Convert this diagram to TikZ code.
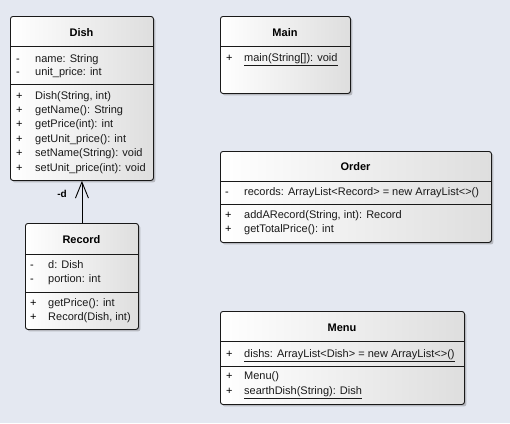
\documentclass[tikz,border=0pt]{standalone}
\usepackage{fontspec}
\setmainfont{Liberation Sans}
\usetikzlibrary{arrows.meta,shadows}
\definecolor{bgc}{RGB}{228,232,241}
\definecolor{boxr}{RGB}{222,222,222}
\begin{document}
\begin{tikzpicture}[x=1pt,y=-1pt,
  box/.style={draw=black!90, line width=0.9pt, rounded corners=2.5pt, left color=white, right color=boxr,
    drop shadow={shadow xshift=2pt, shadow yshift=-2pt, opacity=0.3, fill=black!70},
    anchor=north west, inner sep=0pt},
  sep/.style={draw=black!90, line width=0.9pt},
  txt/.style={anchor=west, inner sep=0pt, font=\fontsize{11pt}{12pt}\selectfont, text height=7.4pt, text depth=0.4pt, text=black!90},
  ttl/.style={anchor=center, inner sep=0pt, font=\fontsize{11pt}{12pt}\selectfont\bfseries, text height=7.4pt, text depth=0.4pt},
  vis/.style={anchor=west, inner sep=0pt, font=\fontsize{11pt}{12pt}\selectfont, text height=7.4pt, text depth=0.4pt},
  assoc/.style={draw=black, line width=0.9pt, -{Straight Barb[length=16pt,width=13pt,line width=0.9pt]}}
]
\fill[bgc] (0,0) rectangle (510,423);
\useasboundingbox (0,0) rectangle (510,423);

% Dish
\node[box, minimum width=143pt, minimum height=164pt] (dish) at (10,16) {};
\draw[sep] (10,46) -- (153,46);
\draw[sep] (10,84) -- (153,84);
\node[ttl] (dishT) at (81.5,33) {Dish};
\node[vis] (dv1) at (16,59) {-};
\node[txt] (da1) at (35,59) {name: String};
\node[vis] (dv2) at (16,72) {-};
\node[txt] (da2) at (35,72) {unit\_price: int};
\node[vis] (dv3) at (16,96) {+};
\node[txt] (dm1) at (35,96) {Dish(String, int)};
\node[vis] (dv4) at (16,110) {+};
\node[txt] (dm2) at (35,110) {getName(): String};
\node[vis] (dv5) at (16,124) {+};
\node[txt] (dm3) at (35,124) {getPrice(int): int};
\node[vis] (dv6) at (16,139) {+};
\node[txt] (dm4) at (35,139) {getUnit\_price(): int};
\node[vis] (dv7) at (16,153) {+};
\node[txt] (dm5) at (35,153) {setName(String): void};
\node[vis] (dv8) at (16,168) {+};
\node[txt] (dm6) at (35,168) {setUnit\_price(int): void};

% Record
\node[box, minimum width=113pt, minimum height=106pt] (record) at (25,223) {};
\draw[sep] (25,254) -- (138,254);
\draw[sep] (25,292) -- (138,292);
\node[ttl] (recT) at (81.5,240) {Record};
\node[vis] (rv1) at (30,265) {-};
\node[txt] (ra1) at (48,265) {d: Dish};
\node[vis] (rv2) at (30,279) {-};
\node[txt] (ra2) at (48,279) {portion: int};
\node[vis] (rv3) at (30,303) {+};
\node[txt] (rm1) at (48,303) {getPrice(): int};
\node[vis] (rv4) at (30,317) {+};
\node[txt] (rm2) at (48,317) {Record(Dish, int)};

% association
\draw[assoc] (record.north) -- (dish.south);
\node[ttl, font=\fontsize{10pt}{12pt}\selectfont\bfseries] (lbl) at (62,194) {-d};

% Main
\node[box, minimum width=130pt, minimum height=77pt] (main) at (220,16) {};
\draw[sep] (220,46) -- (350,46);
\node[ttl] (mainT) at (285,33) {Main};
\node[vis] (mv1) at (226,58) {+};
\node[txt] (mm1) at (244,58) {\underline{main(String[]): void}};

% Order
\node[box, minimum width=271pt, minimum height=91pt] (order) at (220,151) {};
\draw[sep] (220,181) -- (491,181);
\draw[sep] (220,204) -- (491,204);
\node[ttl] (ordT) at (355.5,167) {Order};
\node[vis] (ov1) at (225,192) {-};
\node[txt] (oa1) at (244,192) {records: ArrayList<Record> = new ArrayList<>()};
\node[vis] (ov2) at (225,215) {+};
\node[txt] (om1) at (244,215) {addARecord(String, int): Record};
\node[vis] (ov3) at (225,229) {+};
\node[txt] (om2) at (244,229) {getTotalPrice(): int};

% Menu
\node[box, minimum width=244pt, minimum height=93pt] (menu) at (220,311) {};
\draw[sep] (220,341) -- (464,341);
\draw[sep] (220,366) -- (464,366);
\node[ttl] (menuT) at (342,328) {Menu};
\node[vis] (nv1) at (226,354) {+};
\node[txt] (na1) at (244,354) {\underline{dishs: ArrayList<Dish> = new ArrayList<>()}};
\node[vis] (nv2) at (226,376) {+};
\node[txt] (nm1) at (244,376) {Menu()};
\node[vis] (nv3) at (226,391) {+};
\node[txt] (nm2) at (244,391) {\underline{searthDish(String): Dish}};
\end{tikzpicture}
\end{document}
